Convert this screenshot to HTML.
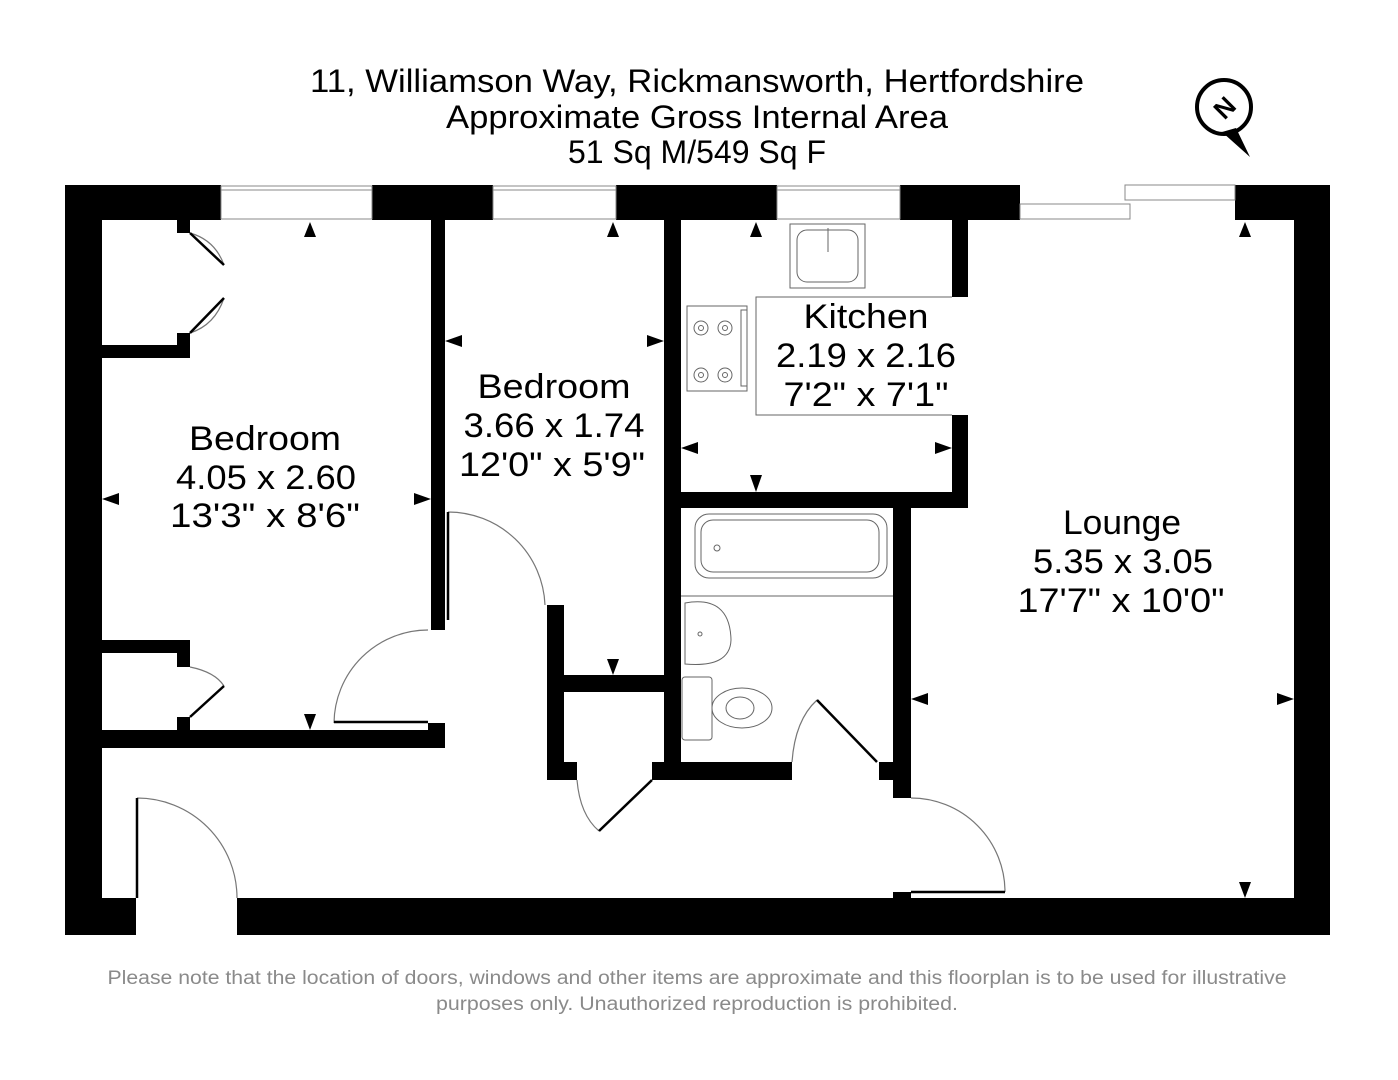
<!DOCTYPE html>
<html><head><meta charset="utf-8"><style>
html,body{margin:0;padding:0;background:#fff;}
svg{display:block;}
text{font-family:"Liberation Sans",sans-serif;}
</style></head><body>
<svg width="1398" height="1080" viewBox="0 0 1398 1080" xmlns="http://www.w3.org/2000/svg">
<rect width="1398" height="1080" fill="#fff"/>
<g fill="#000" font-size="32" text-anchor="middle" lengthAdjust="spacingAndGlyphs">
<text x="697" y="92" textLength="774" lengthAdjust="spacingAndGlyphs">11, Williamson Way, Rickmansworth, Hertfordshire</text>
<text x="697" y="128" textLength="502" lengthAdjust="spacingAndGlyphs">Approximate Gross Internal Area</text>
<text x="697" y="163" textLength="258" lengthAdjust="spacingAndGlyphs">51 Sq M/549 Sq F</text>
</g>
<g>
<circle cx="1224" cy="107" r="27" fill="none" stroke="#000" stroke-width="4"/>
<polygon points="1236,128 1250,157 1222,132" fill="#000"/>
<text x="1224" y="117" font-size="26" font-weight="bold" text-anchor="middle" transform="rotate(-45 1224 107)">N</text>
</g>
<g fill="#000">
<rect x="65" y="185" width="156" height="35"/>
<rect x="372" y="185" width="121" height="35"/>
<rect x="616" y="185" width="161" height="35"/>
<rect x="900" y="185" width="120" height="35"/>
<rect x="1235" y="185" width="95" height="35"/>
<rect x="65" y="185" width="37" height="750"/>
<rect x="1294" y="185" width="36" height="750"/>
<rect x="65" y="898" width="71" height="37"/>
<rect x="237" y="898" width="1093" height="37"/>
<rect x="893" y="892" width="18" height="8"/>
<rect x="102" y="345" width="88" height="13"/>
<rect x="177" y="220" width="13" height="13"/>
<rect x="177" y="333" width="13" height="25"/>
<rect x="102" y="640" width="88" height="13"/>
<rect x="177" y="640" width="13" height="27"/>
<rect x="177" y="717" width="13" height="14"/>
<rect x="102" y="730" width="343" height="18"/>
<rect x="428" y="723" width="17" height="25"/>
<rect x="431" y="220" width="14" height="410"/>
<rect x="547" y="605" width="17" height="175"/>
<rect x="547" y="762" width="30" height="18"/>
<rect x="564" y="675" width="117" height="17"/>
<rect x="652" y="762" width="29" height="18"/>
<rect x="664" y="220" width="17" height="560"/>
<rect x="664" y="762" width="128" height="18"/>
<rect x="879" y="762" width="14" height="18"/>
<rect x="893" y="508" width="18" height="290"/>
<rect x="681" y="492" width="287" height="16"/>
<rect x="952" y="220" width="16" height="77"/>
<rect x="952" y="415" width="16" height="93"/>
</g>
<g fill="none" stroke="#888" stroke-width="1">
<rect x="221" y="186" width="151" height="33"/>
<line x1="221" y1="190" x2="372" y2="190"/>
<rect x="493" y="186" width="123" height="33"/>
<line x1="493" y1="190" x2="616" y2="190"/>
<rect x="777" y="186" width="123" height="33"/>
<line x1="777" y1="190" x2="900" y2="190"/>
<rect x="1020" y="204" width="110" height="15"/>
<rect x="1125" y="185" width="110" height="15"/>
</g>
<g fill="none" stroke="#777" stroke-width="1.2">
<path d="M190,233 Q215,240 224,265"/>
<path d="M190,333 Q215,325 224,298"/>
<path d="M190,667 Q215,672 224,686"/>
<path d="M334,723 A94,94 0 0 1 428,630"/>
<path d="M448,512 A97,97 0 0 1 545,605"/>
<path d="M577,780 Q580,815 599,831"/>
<path d="M792,762 Q795,720 817,700"/>
<path d="M911,798 A94,94 0 0 1 1005,892"/>
<path d="M137,798 A100,100 0 0 1 237,898"/>
</g>
<g stroke="#000" stroke-width="2.5" fill="none">
<line x1="190" y1="233" x2="224" y2="265"/>
<line x1="190" y1="333" x2="224" y2="298"/>
<line x1="190" y1="717" x2="224" y2="686"/>
<line x1="334" y1="722" x2="428" y2="722"/>
<line x1="448" y1="512" x2="448" y2="620"/>
<line x1="652" y1="780" x2="599" y2="831"/>
<line x1="877" y1="762" x2="817" y2="700"/>
<line x1="911" y1="892" x2="1005" y2="892"/>
<line x1="137" y1="798" x2="137" y2="898"/>
</g>
<g fill="none" stroke="#666" stroke-width="1">
<rect x="790" y="224" width="75" height="64"/>
<rect x="797" y="230" width="61" height="52" rx="10"/>
<line x1="828" y1="228" x2="828" y2="252"/>
<path d="M952,297 H756 V415 H952"/>
<rect x="687" y="306" width="60" height="85"/>
<circle cx="701" cy="328" r="7"/><circle cx="701" cy="328" r="2.5"/>
<circle cx="725" cy="328" r="7"/><circle cx="725" cy="328" r="2.5"/>
<circle cx="701" cy="375" r="7"/><circle cx="701" cy="375" r="2.5"/>
<circle cx="725" cy="375" r="7"/><circle cx="725" cy="375" r="2.5"/>
<rect x="741" y="310" width="6" height="76"/>
<rect x="695" y="514" width="192" height="64" rx="14"/>
<rect x="701" y="520" width="178" height="52" rx="12"/>
<circle cx="717" cy="548" r="3"/>
<line x1="681" y1="596" x2="893" y2="596"/>
<path d="M685,603 Q730,595 731,640 Q730,668 685,664 Z"/>
<circle cx="700" cy="634" r="2"/>
<rect x="682" y="677" width="30" height="63" rx="3"/>
<ellipse cx="742" cy="708" rx="30" ry="20"/>
<ellipse cx="740" cy="708" rx="14" ry="11"/>
</g>
<g fill="#000">
<polygon points="304,237 316,237 310,222"/>
<polygon points="607,237 619,237 613,222"/>
<polygon points="750,237 762,237 756,222"/>
<polygon points="1239,237 1251,237 1245,222"/>
<polygon points="102,499 119,493 119,505"/>
<polygon points="431,499 414,493 414,505"/>
<polygon points="445,341 462,335 462,347"/>
<polygon points="664,341 647,335 647,347"/>
<polygon points="681,448 698,442 698,454"/>
<polygon points="952,448 935,442 935,454"/>
<polygon points="304,714 316,714 310,730"/>
<polygon points="607,659 619,659 613,675"/>
<polygon points="750,475 762,475 756,492"/>
<polygon points="1239,882 1251,882 1245,898"/>
<polygon points="911,699 928,693 928,705"/>
<polygon points="1294,699 1277,693 1277,705"/>
</g>
<g fill="#000" font-size="34" text-anchor="middle">
<text x="265" y="450" textLength="152" lengthAdjust="spacingAndGlyphs">Bedroom</text>
<text x="266" y="489" textLength="180" lengthAdjust="spacingAndGlyphs">4.05 x 2.60</text>
<text x="265" y="527" textLength="190" lengthAdjust="spacingAndGlyphs">13'3" x 8'6"</text>
<text x="554" y="398" textLength="153" lengthAdjust="spacingAndGlyphs">Bedroom</text>
<text x="554" y="437" textLength="181" lengthAdjust="spacingAndGlyphs">3.66 x 1.74</text>
<text x="552" y="476" textLength="186" lengthAdjust="spacingAndGlyphs">12'0" x 5'9"</text>
<text x="866" y="328" textLength="125" lengthAdjust="spacingAndGlyphs">Kitchen</text>
<text x="866" y="367" textLength="180" lengthAdjust="spacingAndGlyphs">2.19 x 2.16</text>
<text x="866" y="406" textLength="165" lengthAdjust="spacingAndGlyphs">7'2" x 7'1"</text>
<text x="1122" y="534" textLength="118" lengthAdjust="spacingAndGlyphs">Lounge</text>
<text x="1123" y="573" textLength="180" lengthAdjust="spacingAndGlyphs">5.35 x 3.05</text>
<text x="1121" y="612" textLength="207" lengthAdjust="spacingAndGlyphs">17'7" x 10'0"</text>
</g>
<g fill="#8a8a8a" font-size="19" text-anchor="middle">
<text x="697" y="984" textLength="1179" lengthAdjust="spacingAndGlyphs">Please note that the location of doors, windows and other items are approximate and this floorplan is to be used for illustrative</text>
<text x="697" y="1010" textLength="522" lengthAdjust="spacingAndGlyphs">purposes only. Unauthorized reproduction is prohibited.</text>
</g>
</svg>
</body></html>
